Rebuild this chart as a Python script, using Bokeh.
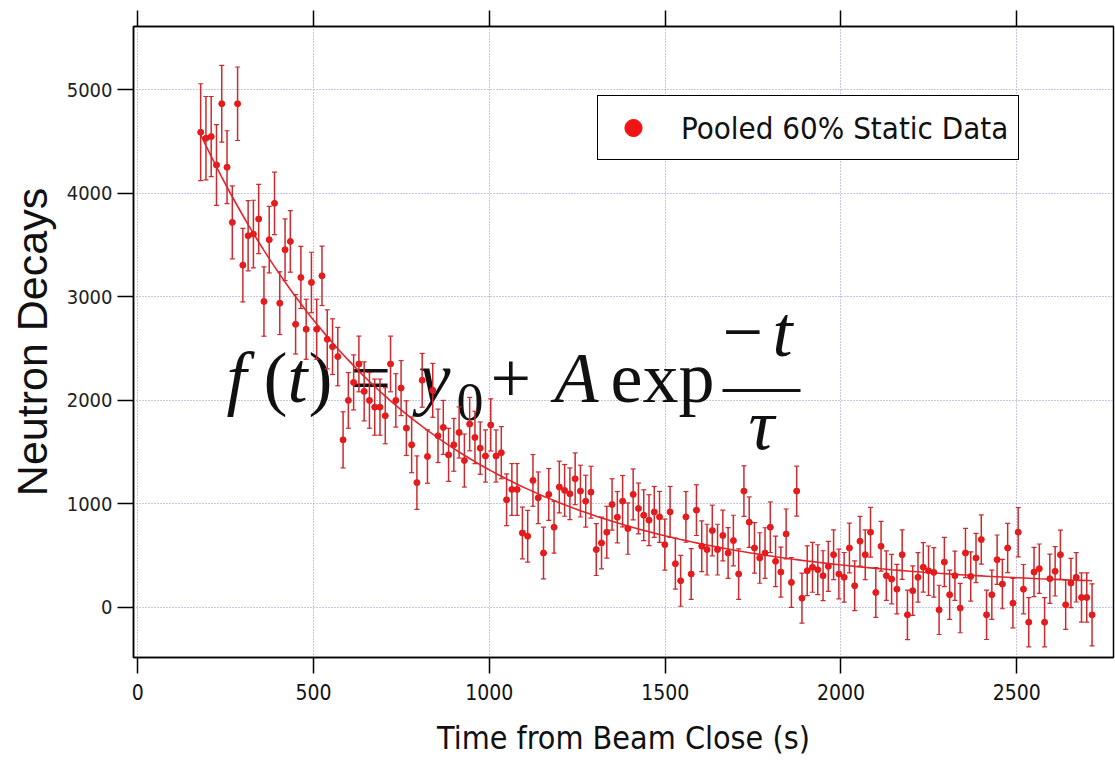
import numpy as np
from bokeh.plotting import figure
from bokeh.models import (ColumnDataSource, Whisker, TeeHead, Legend, LegendItem,
                          Label, LinearAxis, Range1d, FixedTicker, BoxAnnotation)
from bokeh.embed import file_html
from bokeh.resources import INLINE

# ---------------- data ----------------
time_s = list(range(179, 2715, 15))   # 15 s time bins

decays = [
    4590, 4532, 4548, 4274, 4865, 4252, 3719, 4865, 3306, 3590,
    3606, 3752, 2955, 3552, 3903, 2939, 3455, 3535, 2735, 3187,
    2687, 3139, 2687, 3203, 2590, 2519, 2423,
    1619, 2000, 2174, 2352, 2087, 2000, 1935, 1935, 1852, 2352,
    2000, 2119, 1732, 1571, 1206, 2194, 1458, 2097, 1658, 1739,
    1474, 1571, 1690, 1419, 1771, 1642, 1539,
    1463, 1763, 1463, 1495, 1040, 1140, 1140, 720, 688, 1227,
    1059, 526, 1092, 775, 1163, 1131, 1098, 1243, 1124, 1027,
    1114, 559, 623, 727, 995, 872, 1027, 762,
    1092, 956, 891, 843, 923, 875, 607, 923, 423, 258,
    875, 323, 940, 591, 559, 743, 559, 695, 526, 646,
    323, 1124, 824, 575, 478, 526, 775, 446,
    342, 710, 242, 1124, 90, 355, 388, 365, 307, 397,
    510, 323, 291, 575, 210, 640, 510, 727, 145, 591,
    307, 274, 177, 510, -71, 162, 291, 388, 355, 339,
    -23, 439, 123, 307, -6, 526, 300, 478, 656, -71,
    123, 462, 226, 575, 42, 727, 177, -142, 342, 375,
    -142, 278, 349, 510, 26, 236, 291, 97, 97, -71,
]

errors = [
    468, 403, 387, 390, 371, 352, 352, 355, 355, 339,
    327, 335, 335, 321, 302, 303, 298, 297, 287, 300,
    290, 292, 290, 287, 285, 269, 282,
    271, 269, 266, 269, 285, 269, 271, 271, 271, 269,
    258, 266, 264, 269, 258, 260, 258, 260, 258, 261,
    256, 255, 247, 256, 258, 253, 253,
    252, 252, 252, 252, 250, 250, 250, 250, 250, 250,
    250, 250, 250, 250, 250, 250, 250, 250, 250, 250,
    250, 250, 250, 250, 248, 248, 248, 248,
    246, 246, 246, 246, 246, 246, 246, 246, 246, 246,
    245, 245, 245, 245, 245, 245, 245, 245, 245, 245,
    244, 244, 244, 244, 244, 244, 244, 244,
    241, 241, 241, 241, 241, 241, 241, 241, 241, 241,
    240, 240, 240, 240, 240, 240, 240, 240, 240, 240,
    239, 239, 239, 239, 239, 239, 239, 239, 239, 239,
    238, 238, 238, 238, 238, 238, 238, 238, 238, 238,
    238, 238, 238, 238, 238, 238, 238, 238, 238, 238,
    238, 238, 238, 238, 238, 238, 238, 238, 238, 300,
]

# fit parameters of f(t) = y0 + A exp(-t/tau)
fit_y0, fit_A, fit_tau = 190.0, 5870.0, 610.0

x_ticks = [0, 500, 1000, 1500, 2000, 2500]
y_ticks = [0, 1000, 2000, 3000, 4000, 5000]
legend_label = "Pooled 60% Static Data"
x_label = "Time from Beam Close (s)"
y_label = "Neutron Decays"

# ---------------- layout ----------------
W, H = 1115, 763
X_RANGE = (-12, 2775)
Y_RANGE = (-483, 5611)
LEFT, TOP, RIGHT, BOTTOM = 133, 26, 2, 106
FRAME_W, FRAME_H = W - LEFT - RIGHT, H - TOP - BOTTOM

NARROW = "DejaVu Sans Condensed"
SANS = "Liberation Sans"
SERIF = "Liberation Serif"

def tx(px):
    return X_RANGE[0] + (px - LEFT) / FRAME_W * (X_RANGE[1] - X_RANGE[0])

def vy(py):
    return Y_RANGE[1] - (py - TOP) / FRAME_H * (Y_RANGE[1] - Y_RANGE[0])

p = figure(width=W, height=H,
           x_range=Range1d(*X_RANGE), y_range=Range1d(*Y_RANGE),
           output_backend="svg", toolbar_location=None,
           min_border_left=LEFT, min_border_top=TOP,
           min_border_bottom=BOTTOM, min_border_right=RIGHT)

p.background_fill_color = "white"
p.border_fill_color = "white"
p.outline_line_color = "black"
p.outline_line_width = 1.5
p.outline_line_alpha = 1.0

for g, tk in ((p.xgrid[0], x_ticks), (p.ygrid[0], y_ticks)):
    g.ticker = FixedTicker(ticks=tk)
    g.grid_line_color = "#8f8fd0"
    g.grid_line_dash = "1 2"
    g.grid_line_width = 1

def style_axis(ax, ticks):
    ax.ticker = FixedTicker(ticks=ticks)
    ax.major_tick_out = 16
    ax.major_tick_in = 0
    ax.major_tick_line_color = "black"
    ax.major_tick_line_width = 1.5
    ax.minor_tick_line_color = None
    ax.axis_line_color = "black"
    ax.axis_line_width = 1.5

xa = p.xaxis[0]
style_axis(xa, x_ticks)
xa.major_label_text_font = NARROW
xa.major_label_text_font_size = "21px"
xa.major_label_text_color = "#111111"
xa.major_label_standoff = 10
xa.axis_label = x_label
xa.axis_label_text_font = NARROW
xa.axis_label_text_font_size = "32px"
xa.axis_label_text_font_style = "normal"
xa.axis_label_text_color = "#111111"
xa.axis_label_standoff = 16

ya = p.yaxis[0]
style_axis(ya, y_ticks)
ya.major_label_text_font = NARROW
ya.major_label_text_font_size = "20px"
ya.major_label_text_color = "#222222"
ya.major_label_standoff = 5
ya.axis_label = y_label
ya.axis_label_text_font = SANS
ya.axis_label_text_font_size = "43px"
ya.axis_label_text_font_style = "normal"
ya.axis_label_text_color = "#111111"
ya.axis_label_standoff = 8

top = LinearAxis()
style_axis(top, x_ticks)
top.major_label_text_font_size = "0px"
top.major_label_text_alpha = 0
top.major_label_standoff = 0
p.add_layout(top, "above")

# ---------------- formula (drawn under the data) ----------------
def put(text, px, py, size=72, style="italic"):
    shift = 0.42 * size   # compensate label baseline placement
    p.add_layout(Label(x=tx(px), y=vy(py - shift), text=text, text_font=SERIF,
                       text_font_size=f"{size}px", text_font_style=style,
                       text_color="#111111", text_align="left",
                       text_baseline="alphabetic", level="underlay"))

put("f", 226, 408)
put("(", 263, 408, style="normal")
put("t", 287, 408)
put(")", 308, 408, style="normal")
put("=", 350, 408, style="normal")
put("y", 418, 408)
put("0", 456, 424, size=54, style="normal")
put("+", 490, 408, style="normal")
put("A", 554, 408)
put("exp", 610, 408, style="normal")
put("\u2212", 722, 362, style="normal")
put("t", 772, 362)
put("\u03c4", 748, 455)
p.add_layout(BoxAnnotation(left=tx(722), right=tx(800), bottom=vy(391.5), top=vy(388.5),
                           fill_color="#111111", fill_alpha=1, line_color=None,
                           level="underlay"))

# ---------------- data ----------------
lo = [d - e for d, e in zip(decays, errors)]
hi = [d + e for d, e in zip(decays, errors)]
src = ColumnDataSource(dict(t=time_s, y=decays, lo=lo, hi=hi))

fit = [fit_y0 + fit_A * np.exp(-t / fit_tau) for t in time_s]
p.line(time_s, fit, line_color="#e3262b", line_width=1.6)

ebar_color = "#cc2a2e"
wh = Whisker(source=src, base="t", lower="lo", upper="hi", dimension="height",
             line_color=ebar_color, line_width=1.5,
             upper_head=TeeHead(size=5, line_color=ebar_color, line_width=1.2),
             lower_head=TeeHead(size=5, line_color=ebar_color, line_width=1.2),
             level="glyph")
p.add_layout(wh)

pts = p.scatter("t", "y", source=src, size=6, marker="circle",
                fill_color="#f01414", line_color="#f01414")

legend = Legend(items=[LegendItem(label=legend_label, renderers=[pts])],
                location=(597 - LEFT, (H - BOTTOM) - 160),
                border_line_color="black", border_line_width=1.5, border_line_alpha=1,
                background_fill_color="white", background_fill_alpha=1,
                padding=10, margin=0, spacing=0,
                glyph_width=50, glyph_height=43, label_height=43,
                label_standoff=23,
                label_text_font=NARROW, label_text_font_size="31px",
                label_text_color="#111111")
p.add_layout(legend)

open("out.html", "w").write(file_html(p, INLINE))
